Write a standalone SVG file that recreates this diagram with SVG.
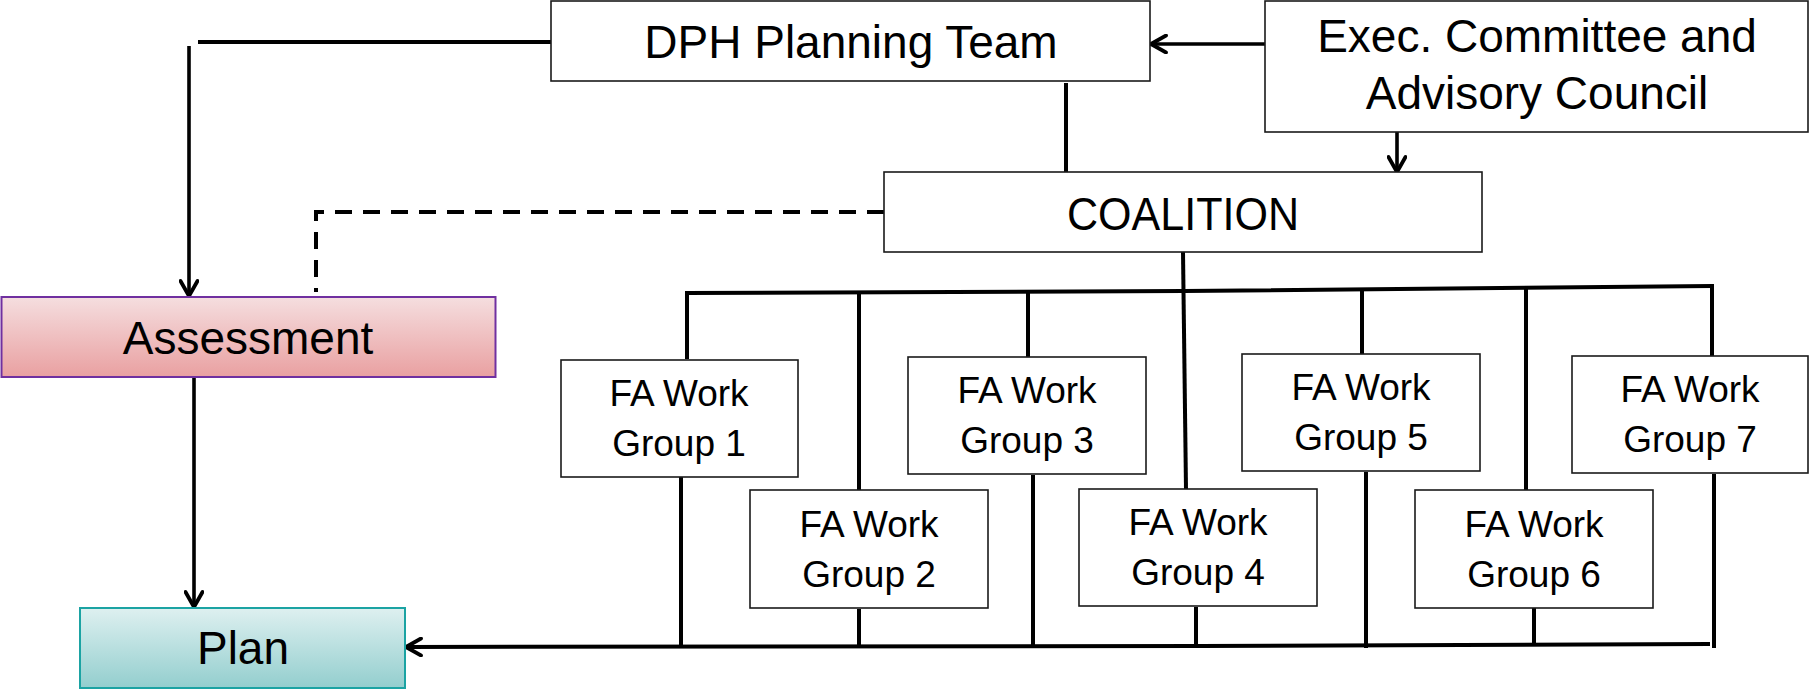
<svg xmlns="http://www.w3.org/2000/svg" width="1809" height="690" viewBox="0 0 1809 690">
<style>
.box{fill:#ffffff;stroke:#1a1a1a;stroke-width:1.6}
.t{font-family:"Liberation Sans",Arial,sans-serif;fill:#000;text-anchor:middle}
.big{font-size:46px}
.sm{font-size:37px}
.ln{fill:none;stroke:#000;stroke-width:4}
.ar{fill:none;stroke:#000;stroke-width:3.6;marker-end:url(#ah)}
.dash{fill:none;stroke:#000;stroke-width:4;stroke-dasharray:17 11}
</style>
<defs>
<marker id="ah" markerUnits="userSpaceOnUse" viewBox="0 0 20 20" markerWidth="20" markerHeight="20" refX="18" refY="10" orient="auto">
<path d="M3,1.5 L18,10 L3,18.5" fill="none" stroke="#000" stroke-width="3.8" stroke-linecap="round" stroke-linejoin="round"/>
</marker>
<linearGradient id="gA" x1="0" y1="0" x2="0" y2="1">
<stop offset="0" stop-color="#F5DEDF"/>
<stop offset="1" stop-color="#E9A0A1"/>
</linearGradient>
<linearGradient id="gP" x1="0" y1="0" x2="0" y2="1">
<stop offset="0" stop-color="#DEF0F0"/>
<stop offset="1" stop-color="#93CECE"/>
</linearGradient>
</defs>
<g id="connectors">
<line class="ln" x1="551" y1="42" x2="198" y2="42"/>
<line class="ar" x1="189" y1="46" x2="189" y2="296"/>
<line class="ar" x1="1265" y1="44" x2="1151" y2="44"/>
<line class="ar" x1="1397" y1="132" x2="1397" y2="172"/>
<line class="ln" x1="1066" y1="83" x2="1066" y2="172"/>
<polyline class="dash" points="884,212 316,212 316,292"/>
<line class="ar" x1="194" y1="377" x2="194" y2="607"/>
<polyline class="ln" points="686,293 1184,291 1712,286"/>
<line class="ln" x1="687" y1="291" x2="687" y2="359"/>
<line class="ln" x1="859" y1="292" x2="859" y2="490"/>
<line class="ln" x1="1028" y1="291" x2="1028" y2="357"/>
<line class="ln" x1="1183" y1="252" x2="1186" y2="489"/>
<line class="ln" x1="1362" y1="289" x2="1362" y2="355"/>
<line class="ln" x1="1526" y1="288" x2="1526" y2="490"/>
<line class="ln" x1="1712" y1="284" x2="1712" y2="356"/>
<line class="ln" x1="681" y1="477" x2="681" y2="648"/>
<line class="ln" x1="859" y1="609" x2="859" y2="647"/>
<line class="ln" x1="1033" y1="475" x2="1033" y2="647"/>
<line class="ln" x1="1196" y1="607" x2="1196" y2="647"/>
<line class="ln" x1="1366" y1="472" x2="1366" y2="648"/>
<line class="ln" x1="1534" y1="608" x2="1534" y2="645"/>
<line class="ln" x1="1714" y1="474" x2="1714" y2="648"/>
<polyline class="ar" style="stroke-width:4" points="1710,644 1200,646 406,647"/>
</g>
<g id="dph">
<rect class="box" x="551" y="1" width="599" height="80"/>
<text class="t big" x="851" y="58">DPH Planning Team</text>
</g>
<g id="exec">
<rect class="box" x="1265" y="1" width="543" height="131"/>
<text class="t big" x="1537" y="52">Exec. Committee and</text>
<text class="t big" x="1537" y="109">Advisory Council</text>
</g>
<g id="coalition">
<rect class="box" x="884" y="172" width="598" height="80"/>
<text class="t big" x="1183" y="230" textLength="232" lengthAdjust="spacingAndGlyphs">COALITION</text>
</g>
<g id="assessment">
<rect x="1.5" y="297" width="494" height="80" fill="url(#gA)" stroke="#7030A0" stroke-width="2"/>
<text class="t big" x="248" y="354">Assessment</text>
</g>
<g id="plan">
<rect x="80" y="608" width="325" height="80" fill="url(#gP)" stroke="#1BA3A3" stroke-width="2"/>
<text class="t big" x="243" y="664">Plan</text>
</g>
<g id="wg1">
<rect class="box" x="561" y="360" width="237" height="117"/>
<text class="t sm" x="679" y="406">FA Work</text>
<text class="t sm" x="679" y="456">Group 1</text>
</g>
<g id="wg2">
<rect class="box" x="750" y="490" width="238" height="118"/>
<text class="t sm" x="869" y="537">FA Work</text>
<text class="t sm" x="869" y="587">Group 2</text>
</g>
<g id="wg3">
<rect class="box" x="908" y="357" width="238" height="117"/>
<text class="t sm" x="1027" y="403">FA Work</text>
<text class="t sm" x="1027" y="453">Group 3</text>
</g>
<g id="wg4">
<rect class="box" x="1079" y="489" width="238" height="117"/>
<text class="t sm" x="1198" y="535">FA Work</text>
<text class="t sm" x="1198" y="585">Group 4</text>
</g>
<g id="wg5">
<rect class="box" x="1242" y="354" width="238" height="117"/>
<text class="t sm" x="1361" y="400">FA Work</text>
<text class="t sm" x="1361" y="450">Group 5</text>
</g>
<g id="wg6">
<rect class="box" x="1415" y="490" width="238" height="118"/>
<text class="t sm" x="1534" y="537">FA Work</text>
<text class="t sm" x="1534" y="587">Group 6</text>
</g>
<g id="wg7">
<rect class="box" x="1572" y="356" width="236" height="117"/>
<text class="t sm" x="1690" y="402">FA Work</text>
<text class="t sm" x="1690" y="452">Group 7</text>
</g>
</svg>
